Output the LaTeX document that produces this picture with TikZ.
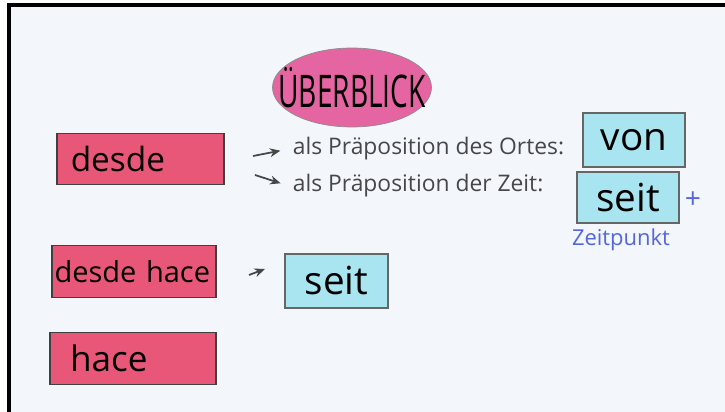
\documentclass[tikz,border=0pt]{standalone}
\usepackage{fontspec}
\setmainfont{Open Sans}
\usetikzlibrary{shapes.geometric,arrows.meta}
\definecolor{boardbg}{HTML}{F3F6FB}
\definecolor{cardred}{HTML}{E95778}
\definecolor{cardblue}{HTML}{A8E5F0}
\definecolor{titlepink}{HTML}{E564A2}
\definecolor{penblue}{HTML}{5566DD}
\definecolor{pengray}{HTML}{474747}

\begin{document}
\begin{tikzpicture}[x=0.02cm,y=-0.02cm,
    redcard/.style={draw=black!75,fill=cardred,line width=0.6pt,minimum height=1.03cm,
        inner sep=0pt,align=left},
    bluecard/.style={draw=black!60,fill=cardblue,line width=0.6pt,inner sep=0pt,
        font=\fontsize{22}{22}\selectfont},
    penline/.style={pengray,font=\fontsize{13}{13}\selectfont,inner sep=2pt},
    pointer/.style={pengray,line width=1pt,shorten >=5pt,-{Stealth[length=6pt,width=5pt]}}]

        % Board and frame
        \useasboundingbox (0,0) rectangle (725,412);
        \fill[white] (0,0) rectangle (725,412);
        \fill[boardbg] (9,5) rectangle (725,412);
        \draw[black,line width=1.8pt] (9,412) -- (9,5) -- (725,5);

        % Title
        \node[ellipse,draw=black!45,fill=titlepink,minimum width=3.18cm,minimum height=1.58cm,
            inner sep=0pt,font=\fontsize{16}{16}\selectfont] (title) at (352,87.5)
            {\makebox[0pt]{\raisebox{-2pt}{\scalebox{1}[1.6]{ÜBERBLICK}}}};

        % Spanish words (left column)
        \node[redcard,minimum width=3.34cm,text width=3.34cm-0.55cm,
            font=\fontsize{19}{19}\selectfont] (desde) at (140.5,159) {desde};
        \node[redcard,minimum width=3.28cm,text width=3.28cm-0.1cm,
            font=\fontsize{16.5}{16.5}\selectfont] (desdehace) at (134,271.5) {desde hace};
        \node[redcard,minimum width=3.32cm,text width=3.32cm-0.8cm,
            font=\fontsize{20}{20}\selectfont] (hace) at (133,358.5) {hace};

        % Explanations for desde
        \node[penline,anchor=west] (ortes) at (289,149) {als Präposition des Ortes:};
        \node[penline,anchor=west] (zeit) at (289,186) {als Präposition der Zeit:};
        \coordinate (ortesTail) at (253,156);
        \coordinate (zeitTail) at (255,175);
        \draw[pointer] (ortesTail) -- (ortes.west);
        \draw[pointer] (zeitTail) -- (zeit.west);

        % German translations
        \node[bluecard,minimum width=2.04cm,minimum height=1.08cm] (von) at (634,140) {von};
        \node[bluecard,minimum width=2.04cm,minimum height=1.02cm] (seitA) at (628,197.5) {seit};
        \node[penblue,font=\fontsize{16}{16}\selectfont,inner sep=0pt] (plus) at (693,200) {+};
        \node[penblue,font=\fontsize{12.5}{12.5}\selectfont,inner sep=0pt] (zeitpunkt) at (621,240) {Zeitpunkt};

        % desde hace
        \node[bluecard,minimum width=2.06cm,minimum height=1.08cm] (seitB) at (336.5,281) {seit};
        \coordinate (haceTail) at (249,275);
        \coordinate (haceHead) at (265,269);
        \draw[pointer,shorten >=0pt] (haceTail) -- (haceHead);

    \end{tikzpicture}
\end{document}
